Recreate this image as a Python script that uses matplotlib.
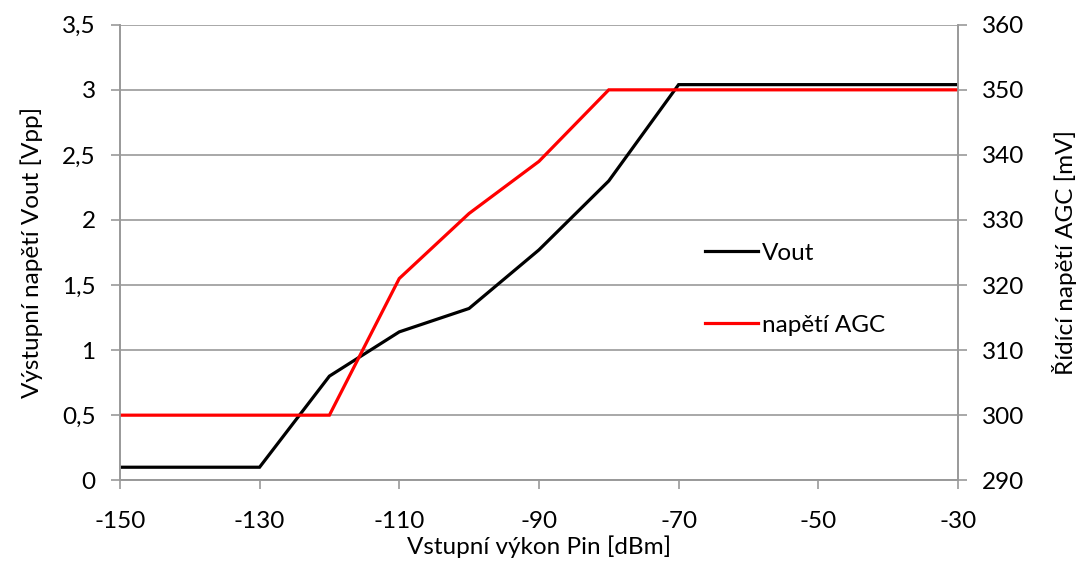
import numpy as np
import matplotlib.pyplot as plt
from matplotlib.ticker import FuncFormatter, MultipleLocator

plt.rcParams['font.family'] = ['Lato', 'DejaVu Sans']
plt.rcParams['axes.unicode_minus'] = False

pin = [-150, -140, -130, -120, -110, -100, -90, -80, -70, -60, -50, -40, -30]
vout = [0.1, 0.1, 0.1, 0.8, 1.14, 1.32, 1.77, 2.3, 3.04, 3.04, 3.04, 3.04, 3.04]
agc = [300, 300, 300, 300, 321, 331, 339, 350, 350, 350, 350, 350, 350]
xticks = [-150, -130, -110, -90, -70, -50, -30]

gray = '#999999'
fs = 17.5

fig = plt.figure(figsize=(10.8, 5.63), dpi=100)
ax = fig.add_axes([0.111, 0.147, 0.776, 0.809])
ax2 = ax.twinx()

l1, = ax.plot(pin, vout, color='black', lw=2.3, solid_joinstyle='miter', label='Vout')
l2, = ax2.plot(pin, agc, color='#ff0000', lw=2.3, solid_joinstyle='miter', label='napětí AGC')

ax.set_xlim(-150, -30)
ax.set_ylim(0, 3.5)
ax2.set_ylim(290, 360)
ax.set_xticks(xticks)
ax.yaxis.set_major_locator(MultipleLocator(0.5))
ax2.yaxis.set_major_locator(MultipleLocator(10))
ax.yaxis.set_major_formatter(FuncFormatter(lambda v, p: f'{v:g}'.replace('.', ',')))

ax.grid(axis='y', color=gray, lw=1.2)
ax.set_axisbelow(True)
for a in (ax, ax2):
    a.spines['top'].set_visible(False)
    for s in ('left', 'right', 'bottom'):
        a.spines[s].set_color(gray)
        a.spines[s].set_linewidth(1.2)
    a.tick_params(colors=gray, labelcolor='black', labelsize=fs, width=1.2, length=6.5, pad=11)
ax.tick_params(axis='x', pad=16)

ax.set_xlabel('Vstupní výkon Pin [dBm]', fontsize=fs, labelpad=2)
ax.set_ylabel('Výstupní napětí Vout [Vpp]', fontsize=fs, labelpad=14)
ax2.set_ylabel('Řídící napětí AGC [mV]', fontsize=fs, labelpad=20)

ax.legend([l1, l2], ['Vout', 'napětí AGC'], loc='upper left', bbox_to_anchor=(0.672, 0.57),
          frameon=False, fontsize=fs, labelspacing=2.1, handlelength=2.2, handletextpad=0.15)

fig.savefig('out.png', dpi=100)
